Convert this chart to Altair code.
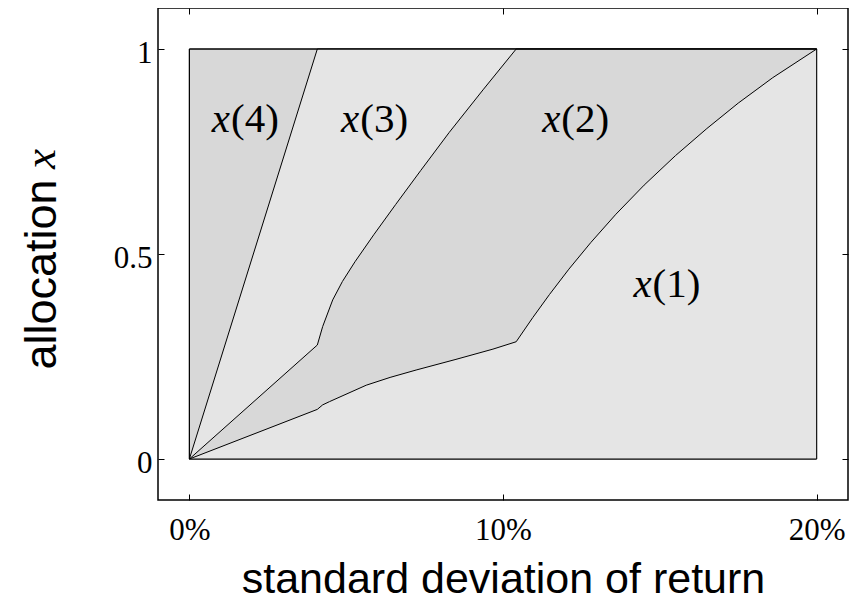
import altair as alt
import pandas as pd

# ---- data ----
# boundary between x(4) and x(3): cumulative x(1)+x(2)+x(3)
sigma_c3 = [0.0, 4.08, 20.0]
c3 = [0.0, 1.0, 1.0]

# boundary between x(3) and x(2): cumulative x(1)+x(2)
sigma_c2 = [0.0, 4.08, 4.25, 4.57, 4.88, 5.28, 5.88, 6.58, 7.38, 8.28, 9.38, 10.42, 20.0]
c2 = [0.0, 0.278, 0.323, 0.388, 0.433, 0.481, 0.547, 0.621, 0.704, 0.796, 0.902, 1.0, 1.0]

# boundary between x(2) and x(1): x(1)
sigma_c1 = [0.0, 4.08, 4.25, 4.47, 5.64, 6.40, 7.23, 8.50, 9.68, 10.42,
            10.95, 11.48, 12.10, 12.80, 13.60, 14.50, 15.50, 16.50, 17.50, 18.60, 20.0]
c1 = [0.0, 0.121, 0.132, 0.140, 0.180, 0.199, 0.217, 0.243, 0.268, 0.286,
      0.345, 0.401, 0.463, 0.528, 0.597, 0.668, 0.740, 0.806, 0.868, 0.930, 1.0]

# region labels
label_num = ["(4)", "(3)", "(2)", "(1)"]
label_sigma = [1.33, 5.45, 11.86, 14.77]
label_y = [0.798, 0.798, 0.798, 0.396]

x_ticks = [0, 10, 20]
y_ticks = [0, 0.5, 1]

LIGHT = "#e5e5e5"
DARK = "#d8d8d8"
SERIF = "Liberation Serif"
SANS = "Liberation Sans"

xscale = alt.Scale(domain=[-1, 21], nice=False, zero=False)
yscale = alt.Scale(domain=[-0.1, 1.1], nice=False, zero=False)

df_box = pd.DataFrame({"x0": [0], "x1": [20], "y0": [0], "y1": [1]})
df3 = pd.DataFrame({"sigma": sigma_c3, "c": c3, "z": [0.0] * len(c3)})
df2 = pd.DataFrame({"sigma": sigma_c2, "c": c2, "z": [0.0] * len(c2)})
df1 = pd.DataFrame({"sigma": sigma_c1, "c": c1, "z": [0.0] * len(c1)})
df_lab = pd.DataFrame({"sigma": label_sigma, "y": label_y, "num": label_num})

x_axis = alt.Axis(
    values=x_ticks, labelExpr="datum.value + '%'", offset=-6, tickSize=6,
    domain=False, grid=False, tickColor="black", tickWidth=1,
    labelFont=SERIF, labelFontSize=31, labelColor="black", labelPadding=15,
    title="standard deviation of return", titleFont=SANS, titleFontSize=43,
    titleFontWeight="normal", titleColor="black", titleBaseline="alphabetic",
    titleY=98,
)
y_axis = alt.Axis(
    values=y_ticks, format="~g", offset=-6, tickSize=6,
    domain=False, grid=False, tickColor="black", tickWidth=1,
    labelFont=SERIF, labelFontSize=31, labelColor="black", labelPadding=6,
    labelOffset=4,
    title="allocation", titleFont=SANS, titleFontSize=45,
    titleFontWeight="normal", titleColor="black", titleBaseline="alphabetic",
    titleAngle=270, titleAlign="center", titleX=-109, titleY=266,
)

box = alt.Chart(df_box).mark_rect(fill=DARK, stroke="black", strokeWidth=1).encode(
    x=alt.X("x0:Q", scale=xscale, axis=x_axis),
    x2="x1:Q",
    y=alt.Y("y0:Q", scale=yscale, axis=y_axis),
    y2="y1:Q",
)

def area(df, color):
    return alt.Chart(df).mark_area(fill=color, opacity=1, line=False).encode(
        x=alt.X("sigma:Q", scale=xscale, axis=None),
        y=alt.Y("c:Q", scale=yscale, axis=None),
        y2="z:Q",
    )

def line(df):
    return alt.Chart(df).mark_line(color="black", strokeWidth=1).encode(
        x=alt.X("sigma:Q", scale=xscale, axis=None),
        y=alt.Y("c:Q", scale=yscale, axis=None),
        order="sigma:Q",
    )

outline = alt.Chart(df_box).mark_rect(fill=None, stroke="black", strokeWidth=1).encode(
    x=alt.X("x0:Q", scale=xscale, axis=None),
    x2="x1:Q",
    y=alt.Y("y0:Q", scale=yscale, axis=None),
    y2="y1:Q",
)

lab_x = alt.Chart(df_lab).mark_text(
    text="x", font=SERIF, fontStyle="italic", fontSize=41, color="black",
    align="right", baseline="alphabetic", dx=-1,
).encode(
    x=alt.X("sigma:Q", scale=xscale, axis=None),
    y=alt.Y("y:Q", scale=yscale, axis=None),
)
lab_n = alt.Chart(df_lab).mark_text(
    font=SERIF, fontSize=41, color="black", align="left", baseline="alphabetic",
).encode(
    x=alt.X("sigma:Q", scale=xscale, axis=None),
    y=alt.Y("y:Q", scale=yscale, axis=None),
    text="num:N",
)

# italic x of the y-axis title
ytitle_x = alt.Chart(df_box).mark_text(
    text="x", font=SERIF, fontStyle="italic", fontSize=45, color="black",
    angle=270, align="center", baseline="alphabetic",
).encode(x=alt.value(-103), y=alt.value(151))

mirror = alt.Chart(df_box).mark_point(opacity=0).encode(
    x=alt.X("x0:Q", scale=xscale, axis=alt.Axis(
        orient="top", values=x_ticks, labels=False, title=None, offset=-6,
        tickSize=6, domain=False, grid=False, tickColor="black")),
    y=alt.Y("y0:Q", scale=yscale, axis=alt.Axis(
        orient="right", values=y_ticks, labels=False, title=None, offset=-6,
        tickSize=6, domain=False, grid=False, tickColor="black")),
)

chart = alt.layer(
    box, area(df3, LIGHT), area(df2, DARK), area(df1, LIGHT),
    line(df3), line(df2), line(df1), outline, lab_x, lab_n, ytitle_x, mirror,
).resolve_axis(x="independent", y="independent").properties(
    width=690, height=492,
    autosize=alt.AutoSizeParams(type="none"),
    padding={"left": 150, "top": 0, "right": 5, "bottom": 100},
).configure_view(stroke="black", strokeWidth=1.5)

chart.save("out.html", embed_options={"renderer": "svg", "actions": False})
